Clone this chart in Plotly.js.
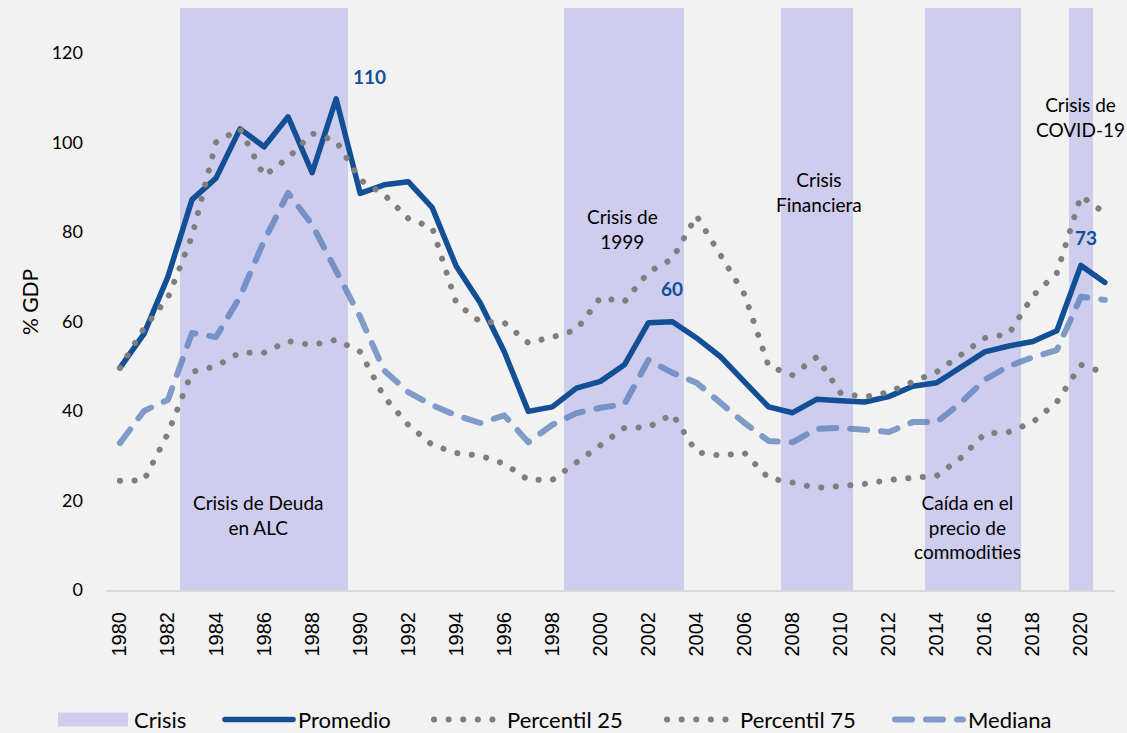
<!DOCTYPE html>
<html>
<head>
<meta charset="utf-8">
<script src="https://cdn.plot.ly/plotly-3.0.1.min.js"></script>
<style>
  html, body { margin: 0; padding: 0; background: #f2f2f2; }
  #chart { width: 1127px; height: 733px; }
  path.js-line { stroke-linecap: round; stroke-linejoin: round; }
</style>
</head>
<body>
<div id="chart"></div>
<script>
// ---- Data ----
const years = [1980,1981,1982,1983,1984,1985,1986,1987,1988,1989,
               1990,1991,1992,1993,1994,1995,1996,1997,1998,1999,
               2000,2001,2002,2003,2004,2005,2006,2007,2008,2009,
               2010,2011,2012,2013,2014,2015,2016,2017,2018,2019,
               2020,2021];

const promedio = [49.6, 57.2, 70.0, 87.2, 92.0, 103.0, 99.0, 105.7, 93.2, 109.7,
                  88.6, 90.5, 91.2, 85.4, 72.3, 64.1, 53.2, 39.9, 40.9, 45.1,
                  46.6, 50.3, 59.7, 59.9, 56.3, 52.1, 46.5, 40.9, 39.6, 42.6,
                  42.3, 42.0, 43.2, 45.5, 46.3, 49.6, 53.2, 54.5, 55.5, 57.9,
                  72.5, 68.7];

const percentil25 = [24.4, 24.5, 35.0, 48.7, 50.0, 53.0, 53.0, 55.6, 54.7, 55.9,
                     53.2, 43.1, 36.9, 32.4, 30.6, 30.0, 28.2, 24.6, 24.6, 28.6,
                     32.4, 36.2, 36.4, 39.3, 30.8, 30.0, 30.6, 25.0, 24.0, 22.8,
                     23.2, 23.7, 24.6, 25.0, 25.5, 29.5, 34.9, 35.3, 37.5, 42.0,
                     50.3, 48.5];

const percentil75 = [49.6, 58.5, 65.3, 79.0, 100.0, 103.0, 92.5, 96.5, 102.0, 100.3,
                     91.6, 88.3, 83.0, 80.9, 64.1, 59.9, 59.7, 55.2, 56.5, 58.1,
                     65.3, 64.4, 71.0, 74.0, 83.6, 74.9, 66.0, 50.0, 48.0, 52.0,
                     44.0, 43.1, 44.2, 46.5, 48.7, 52.5, 56.3, 57.2, 65.7, 70.8,
                     88.0, 84.2];

const mediana = [32.8, 40.0, 42.5, 57.4, 56.5, 65.5, 78.0, 88.7, 81.6, 71.0,
                 61.0, 49.0, 44.2, 41.3, 39.0, 37.3, 39.0, 33.0, 36.9, 39.5,
                 40.7, 41.5, 51.4, 48.5, 46.3, 41.8, 37.3, 33.3, 33.0, 36.0,
                 36.2, 35.8, 35.3, 37.5, 37.5, 41.8, 47.0, 50.0, 52.0, 53.6,
                 65.5, 64.8];

// Crisis periods (first and last year of each shaded period)
const crisisStart = [1983, 1999, 2008, 2014, 2020];
const crisisEnd   = [1989, 2003, 2010, 2017, 2020];
const crisisLabels = ["Crisis de Deuda<br>en ALC", "Crisis de<br>1999", "Crisis<br>Financiera",
                      "Caída en el<br>precio de<br>commodities", "Crisis de<br>COVID-19"];

// Highlighted values of the average
const labelYears = [1989, 2003, 2020];

const xTickVals = [1980,1982,1984,1986,1988,1990,1992,1994,1996,1998,2000,
                   2002,2004,2006,2008,2010,2012,2014,2016,2018,2020];
const yTickVals = [0, 20, 40, 60, 80, 100, 120];

// ---- Styling ----
const yTop = 130;
const colCrisis = "#cfcdee";
const colProm = "#124f94";
const colMed = "rgba(79,119,184,0.7)";
const colPct = "#7f7f7f";
const fontText = "Lato, 'Open Sans', sans-serif";

const crisisCenters = crisisStart.map((s, i) => (s + crisisEnd[i]) / 2);
const crisisWidths = crisisStart.map((s, i) => crisisEnd[i] - s + 1);

const traces = [
  {
    type: "bar", name: "Crisis",
    x: crisisCenters, y: crisisStart.map(() => yTop), width: crisisWidths,
    marker: { color: colCrisis, line: { width: 0 } },
    hoverinfo: "skip"
  },
  {
    type: "scatter", mode: "lines", name: "Promedio",
    x: years, y: promedio,
    line: { color: colProm, width: 5.5 }
  },
  {
    type: "scatter", mode: "lines", name: "Percentil 25",
    x: years, y: percentil25,
    line: { color: colPct, width: 6, dash: "0.1px,14.5px" }
  },
  {
    type: "scatter", mode: "lines", name: "Percentil 75",
    x: years, y: percentil75,
    line: { color: colPct, width: 6, dash: "0.1px,14.5px" }
  },
  {
    type: "scatter", mode: "lines", name: "Mediana",
    x: years, y: mediana,
    line: { color: colMed, width: 6, dash: "17px,14px" }
  }
];

const annPos = [
  { x: 1985.75, y: 16.8 },
  { x: 2000.9, y: 80.7 },
  { x: 2009.1, y: 88.9 },
  { x: 2015.3, y: 14.1 },
  { x: 2020.0, y: 105.7 }
];
const annotations = crisisLabels.map((t, i) => ({
  x: annPos[i].x, y: annPos[i].y, xref: "x", yref: "y",
  text: t, showarrow: false,
  font: { family: fontText, size: 19, color: "#000" }
}));

const labelShift = [ { dx: 33, dy: 22 }, { dx: 0, dy: 33 }, { dx: 5, dy: 28 } ];
labelYears.forEach((yr, i) => {
  const v = promedio[years.indexOf(yr)];
  annotations.push({
    x: yr, y: v, xref: "x", yref: "y", text: "<b>" + Math.round(v) + "</b>",
    showarrow: false, xshift: labelShift[i].dx, yshift: labelShift[i].dy,
    font: { family: fontText, size: 19, color: colProm }
  });
});

// y-axis title
annotations.push({
  x: -0.0753, y: 0.495, xref: "paper", yref: "paper",
  xanchor: "center", yanchor: "middle",
  text: "% GDP", textangle: -90, showarrow: false,
  font: { family: fontText, size: 21, color: "#000" }
});

const layout = {
  width: 1127, height: 733,
  paper_bgcolor: "#f2f2f2", plot_bgcolor: "#f2f2f2",
  margin: { l: 106, r: 12, t: 8, b: 143, autoexpand: false },
  bargap: 0,
  showlegend: true,
  xaxis: {
    range: [1979.42, 2021.42], automargin: false,
    tickmode: "array", tickvals: xTickVals, ticktext: xTickVals.map(String),
    tickangle: -90,
    tickfont: { family: "'Liberation Sans', Arial, sans-serif", size: 20, color: "#000" },
    ticklabelstandoff: 12,
    showgrid: false, zeroline: false,
    showline: true, linecolor: "#d9d9d9", linewidth: 2,
    ticks: "", fixedrange: true
  },
  yaxis: {
    range: [0, yTop], automargin: false,
    tickmode: "array", tickvals: yTickVals, ticktext: yTickVals.map(String),
    tickfont: { family: fontText, size: 18, color: "#000" },
    showgrid: false, zeroline: false, showline: false, ticks: "",
    ticklabelstandoff: 22,
    fixedrange: true
  },
  legend: {
    orientation: "h", xref: "container", yref: "container",
    x: 0.05, xanchor: "left", y: 0.018, yanchor: "middle",
    font: { family: fontText, size: 22, color: "#000" },
    bgcolor: "rgba(0,0,0,0)"
  },
  annotations: annotations
};

// Text start positions (px) of the legend entries in the reference layout
const legendTextX = [134, 298, 507, 740, 968];

Plotly.newPlot("chart", traces, layout, { displayModeBar: false, staticPlot: true }).then(gd => {
  gd.querySelectorAll(".legend [clip-path]").forEach(e => e.removeAttribute("clip-path"));
  gd.querySelectorAll(".legend .traces").forEach((item, i) => {
    // longer legend keys
    item.querySelectorAll(".legendlines path").forEach(p => p.setAttribute("d", "M-33,0h68"));
    item.querySelectorAll(".legendpoints path").forEach(p => p.setAttribute("d", "M-56,7h70v-14h-70Z"));
    // spread the entries like the reference
    const txt = item.querySelector(".legendtext");
    if (!txt || legendTextX[i] === undefined) return;
    const dx = legendTextX[i] - txt.getBoundingClientRect().left;
    const m = /translate\(\s*([-\d.e]+)[ ,]+([-\d.e]+)\s*\)/.exec(item.getAttribute("transform") || "");
    const tx = m ? parseFloat(m[1]) : 0, ty = m ? parseFloat(m[2]) : 0;
    item.setAttribute("transform", "translate(" + (tx + dx) + "," + ty + ")");
  });
});
</script>
</body>
</html>
